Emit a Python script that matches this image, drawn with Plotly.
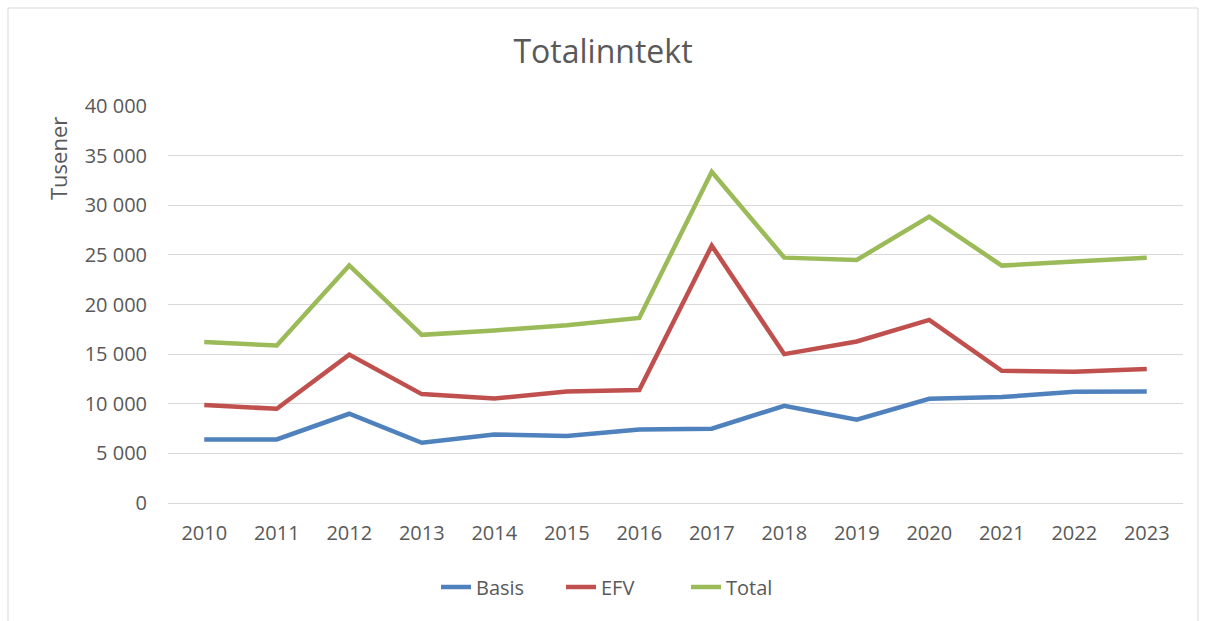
import plotly.graph_objects as go

years = ["2010", "2011", "2012", "2013", "2014", "2015", "2016",
         "2017", "2018", "2019", "2020", "2021", "2022", "2023"]
basis = [6400, 6400, 8990, 6070, 6900, 6750, 7410, 7480, 9800, 8390, 10500, 10670, 11200, 11240]
efv = [9870, 9490, 14950, 10970, 10530, 11230, 11380, 25930, 15000, 16270, 18450, 13320, 13220, 13490]
total = [16210, 15870, 23940, 16940, 17380, 17920, 18650, 33380, 24720, 24490, 28850, 23920, 24320, 24720]

y_ticks = [0, 5000, 10000, 15000, 20000, 25000, 30000, 35000, 40000]
y_ticktext = ["0", "5 000", "10 000", "15 000", "20 000", "25 000", "30 000", "35 000", "40 000"]

series = [("Basis", basis, "#4F81BD"), ("EFV", efv, "#C0504D"), ("Total", total, "#9BBB59")]

FONT = "'Open Sans', Lato, sans-serif"
GREY = "#595959"

fig = go.Figure()
for name, vals, col in series:
    fig.add_trace(go.Scatter(x=years, y=vals, name=name, mode="lines",
                             line=dict(color=col, width=4.5)))

W, H = 1206, 621
L, R, T, B = 168, 23, 106, 118
pw, ph = W - L - R, H - T - B

fig.update_layout(
    width=W, height=H,
    margin=dict(l=L, r=R, t=T, b=B, autoexpand=False),
    paper_bgcolor="white", plot_bgcolor="white",
    font=dict(family=FONT, size=20, color=GREY),
    title=dict(text="Totalinntekt", x=0.5, xref="container", xanchor="center",
               y=1 - 52 / H, yref="container", yanchor="middle",
               font=dict(size=32, color=GREY, family=FONT)),
    showlegend=True,
    legend=dict(orientation="h", x=(436 - L) / pw, xanchor="left",
                y=(H - B - 587) / ph, yanchor="middle",
                entrywidth=80, entrywidthmode="pixels",
                font=dict(size=20, color=GREY), traceorder="normal"),
    xaxis=dict(type="category", range=[-0.5, 13.5], showgrid=False,
               showline=True, linecolor="#D9D9D9", linewidth=1,
               ticks="", tickfont=dict(size=20, color=GREY), ticklabelstandoff=12,
               fixedrange=True),
    yaxis=dict(range=[0, 40000], tickvals=y_ticks, ticktext=y_ticktext,
               showgrid=True, gridcolor="#D9D9D9", gridwidth=1.3,
               zeroline=False, showline=False, ticks="",
               tickfont=dict(size=20, color=GREY), ticklabelstandoff=20,
               fixedrange=True),
    shapes=[dict(type="rect", xref="paper", yref="paper",
                 x0=(8 - L) / pw, x1=(1198 - L) / pw,
                 y0=(H - B - 640) / ph, y1=(H - B - 8) / ph,
                 line=dict(color="#D9D9D9", width=1), fillcolor="rgba(0,0,0,0)",
                 layer="below")],
    annotations=[dict(text="Tusener", textangle=-90, xref="paper", yref="paper",
                      x=(58 - L) / pw, y=(H - B - 159) / ph,
                      xanchor="center", yanchor="middle", showarrow=False,
                      font=dict(size=22, color=GREY))],
)

fig.write_html("out.html", config={"displayModeBar": False},
               post_script="document.body.style.margin='0';document.body.style.overflow='hidden';")
